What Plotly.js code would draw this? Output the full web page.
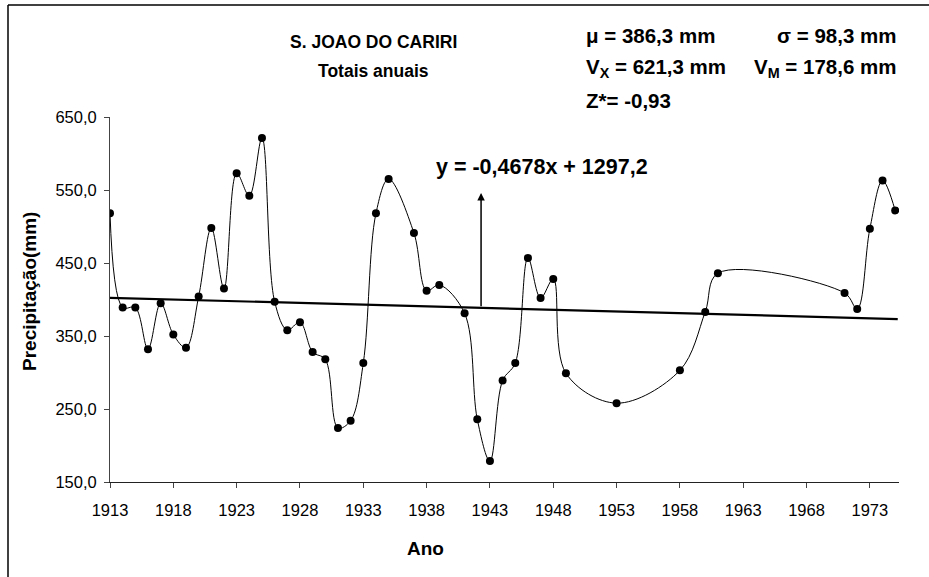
<!DOCTYPE html>
<html>
<head>
<meta charset="utf-8">
<script src="https://cdn.plot.ly/plotly-3.0.1.min.js"></script>
<style>html,body{margin:0;padding:0;background:#fff;}#chart{width:929px;height:577px;}</style>
</head>
<body>
<div id="chart"></div>
<script>
// Annual precipitation totals, S. Joao do Cariri
var years = [1913,1914,1915,1916,1917,1918,1919,1920,1921,1922,1923,1924,1925,1926,1927,1928,1929,1930,1931,1932,1933,1934,1935,1937,1938,1939,1941,1942,1943,1944,1945,1946,1947,1948,1949,1953,1958,1960,1961,1971,1972,1973,1974,1975];
var precip = [518,389,389,332,395,352,334,404,498,415,573,542,621.3,397,358,369,328,318,224,234,313,518,565,491,412,420,381,236,178.6,289,313,457,402,428,299,258,303,383,436,409,387,497,563,522];
var xTicks = [1913,1918,1923,1928,1933,1938,1943,1948,1953,1958,1963,1968,1973];
var yTicks = [150,250,350,450,550,650];
var trendSlope = -0.4678;
var trendIntercept = 1297.2;
var trendEndYear = 1975.2;

var W = 929, H = 577, L = 110, R = 30, T = 117, B = 95;
var pw = W - L - R, ph = H - T - B;
function px(x){ return (x - L) / pw; }
function py(y){ return 1 - (y - T) / ph; }

var trendX = [years[0], trendEndYear];
var trendY = trendX.map(function(x){ return trendSlope * x + trendIntercept; });

var FONT = 'Liberation Sans, Arial, sans-serif';

var traces = [
  {x: years, y: precip, type: 'scatter', mode: 'lines+markers',
   line: {color: '#000', width: 1, shape: 'spline', smoothing: 1},
   marker: {color: '#000', size: 8}, showlegend: false, hoverinfo: 'x+y'},
  {x: trendX, y: trendY, type: 'scatter', mode: 'lines',
   line: {color: '#000', width: 2.2}, showlegend: false, hoverinfo: 'skip'}
];

var arrowYear = 1942.3;
function bf(s){ return {family: FONT, size: s, color: '#000', weight: 'bold'}; }

var layout = {
  width: W, height: H,
  margin: {l: L, r: R, t: T, b: B},
  paper_bgcolor: '#fff', plot_bgcolor: '#fff',
  separators: ',.',
  showlegend: false,
  xaxis: {range: [1913, 1975.3], tickvals: xTicks, ticks: 'outside', ticklen: 5,
          tickcolor: '#444', showline: true, linecolor: '#222', linewidth: 1,
          showgrid: false, zeroline: false, ticklabelstandoff: 8,
          tickfont: {family: FONT, size: 16.5, color: '#000'}},
  yaxis: {range: [150, 650], tickvals: yTicks, tickformat: '.1f', ticks: 'outside', ticklen: 5,
          tickcolor: '#444', showline: true, linecolor: '#444', linewidth: 1,
          showgrid: false, zeroline: false, ticklabelstandoff: 4,
          tickfont: {family: FONT, size: 16.5, color: '#000'}},
  shapes: [
    {type: 'line', xref: 'paper', yref: 'paper', x0: px(8), x1: px(8), y0: py(5), y1: py(577), line: {color: '#000', width: 1.5}},
    {type: 'line', xref: 'paper', yref: 'paper', x0: px(8), x1: px(929), y0: py(5), y1: py(5), line: {color: '#000', width: 1.5}}
  ],
  annotations: [
    {xref: 'paper', yref: 'paper', x: px(373), y: py(42), text: 'S. JOAO DO CARIRI', showarrow: false, font: bf(17.5), xanchor: 'center', yanchor: 'middle'},
    {xref: 'paper', yref: 'paper', x: px(373), y: py(71), text: 'Totais anuais', showarrow: false, font: bf(17.5), xanchor: 'center', yanchor: 'middle'},
    {xref: 'paper', yref: 'paper', x: px(584), y: py(35), text: 'μ = 386,3 mm', showarrow: false, font: bf(20.5), xanchor: 'left', yanchor: 'middle'},
    {xref: 'paper', yref: 'paper', x: px(898), y: py(35), text: 'σ = 98,3 mm', showarrow: false, font: bf(20.5), xanchor: 'right', yanchor: 'middle'},
    {xref: 'paper', yref: 'paper', x: px(584), y: py(68), text: 'V<sub>X</sub> = 621,3 mm', showarrow: false, font: bf(20.5), xanchor: 'left', yanchor: 'middle'},
    {xref: 'paper', yref: 'paper', x: px(898), y: py(68), text: 'V<sub>M</sub> = 178,6 mm', showarrow: false, font: bf(20.5), xanchor: 'right', yanchor: 'middle'},
    {xref: 'paper', yref: 'paper', x: px(584), y: py(100), text: 'Z*= -0,93', showarrow: false, font: bf(20.5), xanchor: 'left', yanchor: 'middle'},
    {xref: 'paper', yref: 'paper', x: px(542), y: py(167), text: 'y = -0,4678x + 1297,2', showarrow: false, font: bf(21.5), xanchor: 'center', yanchor: 'middle'},
    {xref: 'x', yref: 'y', axref: 'x', ayref: 'y', x: arrowYear, y: 546, ax: arrowYear, ay: trendSlope * arrowYear + trendIntercept,
     text: '', showarrow: true, arrowhead: 2, arrowsize: 1, arrowwidth: 1.5, arrowcolor: '#000'},
    {xref: 'paper', yref: 'paper', x: px(29), y: py(292), text: 'Precipitação(mm)', textangle: -90, showarrow: false,
     font: bf(19), xanchor: 'center', yanchor: 'middle'},
    {xref: 'paper', yref: 'paper', x: px(425), y: py(548), text: 'Ano', showarrow: false,
     font: bf(19), xanchor: 'center', yanchor: 'middle'}
  ]
};

Plotly.newPlot('chart', traces, layout, {displayModeBar: false, staticPlot: true});
</script>
</body>
</html>
